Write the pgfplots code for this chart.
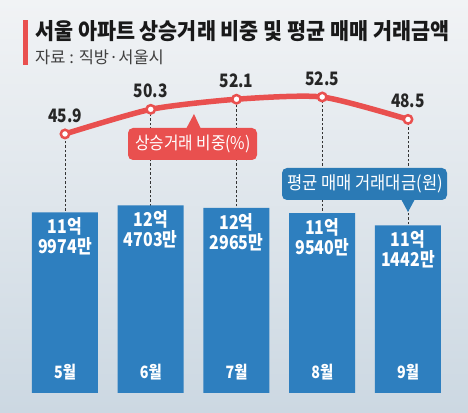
\documentclass[border=0pt]{standalone}
\usepackage{fontspec}
\setmainfont{Noto Sans CJK KR}
\usepackage{graphicx}
\usepackage{pgfplots}
\pgfplotsset{compat=1.18}
\usepackage{pgfplotstable}
\definecolor{bg1}{HTML}{F1F3F5}
\definecolor{bg2}{HTML}{D8E2EA}
\definecolor{bg3}{HTML}{CCD8E2}
\definecolor{lred}{HTML}{E9504F}
\definecolor{barblue}{HTML}{2E7FBF}
\definecolor{lblue}{HTML}{2B7AB5}
\newcommand\cond[1]{\scalebox{0.84}[1]{#1}}

\pgfplotstableread{
x y a b
0 11.9974 11 9974
1 12.4703 12 4703
2 12.2965 12 2965
3 11.9540 11 9540
4 11.1442 11 1442
}\bars
\pgfplotstableread{
x y
0 45.9
1 50.3
2 52.1
3 52.5
4 48.5
}\share

\pgfplotsset{base/.style={scale only axis, width=468pt, height=412pt,
  at={(0pt,0pt)}, anchor=south west, hide axis, clip=false,
  xmin=-0.758, xmax=4.700}}

\begin{document}
\begin{tikzpicture}
\useasboundingbox (0pt,0pt) rectangle (468pt,412pt);
\shade[top color=bg1, middle color=bg2, bottom color=bg3] (0pt,0pt) rectangle (468pt,412pt);

% dashed guide lines
\begin{axis}[base, ymin=-3.75, ymax=69.82]
\addplot[ycomb, black!80, line width=0.6pt, dash pattern=on 2.5pt off 2pt, mark=none] table[x=x,y=y]{\share};
\end{axis}

% bars
\begin{axis}[base, ybar, bar width=66pt, ymin=-1.2625, ymax=26.113]
\addplot[fill=barblue, draw=none, bar shift=0pt,
  point meta=explicit symbolic,
  nodes near coords={\cond{\pgfplotspointmeta{}억}},
  every node near coord/.style={anchor=north, text=white,
    font=\bfseries\fontsize{19}{19}\selectfont, yshift=-2pt}]
  table[x=x,y=y,meta=a]{\bars};
\addplot[fill=none, draw=none, bar shift=0pt,
  point meta=explicit symbolic,
  nodes near coords={\cond{\pgfplotspointmeta{}만}},
  every node near coord/.style={anchor=north, text=white,
    font=\bfseries\fontsize{19}{19}\selectfont, yshift=-22pt}]
  table[x=x,y=y,meta=b]{\bars};
\node[font=\bfseries\fontsize{17}{17}\selectfont, text=white] at (axis cs:0,1.4) {\cond{5월}};
\node[font=\bfseries\fontsize{17}{17}\selectfont, text=white] at (axis cs:1,1.4) {\cond{6월}};
\node[font=\bfseries\fontsize{17}{17}\selectfont, text=white] at (axis cs:2,1.4) {\cond{7월}};
\node[font=\bfseries\fontsize{17}{17}\selectfont, text=white] at (axis cs:3,1.4) {\cond{8월}};
\node[font=\bfseries\fontsize{17}{17}\selectfont, text=white] at (axis cs:4,1.4) {\cond{9월}};
\end{axis}

% line
\begin{axis}[base, ymin=-3.75, ymax=69.82]
\addplot[lred, line width=5.5pt, smooth, tension=0.4,
  mark=*, mark size=4.2pt, mark options={fill=white, draw=lred, line width=2.5pt},
  point meta=explicit symbolic,
  nodes near coords={\cond{\pgfplotspointmeta}},
  every node near coord/.style={anchor=south, yshift=7pt, text=black!85,
    font=\bfseries\fontsize{18.5}{18.5}\selectfont}]
  table[x=x,y=y,meta=y]{\share};
\end{axis}

% callouts
\fill[lred, rounded corners=5pt] (128pt,252pt) rectangle (257pt,284pt);
\fill[lred] (186pt,283pt) -- (194pt,298pt) -- (201pt,283pt) -- cycle;
\node[text=white, font=\fontsize{17.5}{17.5}\selectfont] at (193pt,268pt) {\scalebox{0.9}[1]{상승거래 비중(\%)}};

\fill[lblue, rounded corners=5pt] (282pt,212pt) rectangle (447pt,244pt);
\fill[lblue] (401pt,213pt) -- (408pt,200pt) -- (415pt,213pt) -- cycle;
\node[text=white, font=\fontsize{18}{18}\selectfont] at (365pt,228pt) {\scalebox{0.92}[1]{평균 매매 거래대금(원)}};

% title
\fill[lred] (23pt,347pt) rectangle (28pt,392pt);
\node[anchor=west, inner sep=0pt, text=black!90, font=\bfseries\fontsize{22.5}{22.5}\selectfont] at (35pt,381pt) {\scalebox{0.92}[1]{서울 아파트 상승거래 비중 및 평균 매매 거래금액}};
\node[anchor=west, inner sep=0pt, text=black!75, font=\fontsize{16.5}{16.5}\selectfont] at (35pt,355pt) {자료 : 직방·서울시};
\end{tikzpicture}
\end{document}
